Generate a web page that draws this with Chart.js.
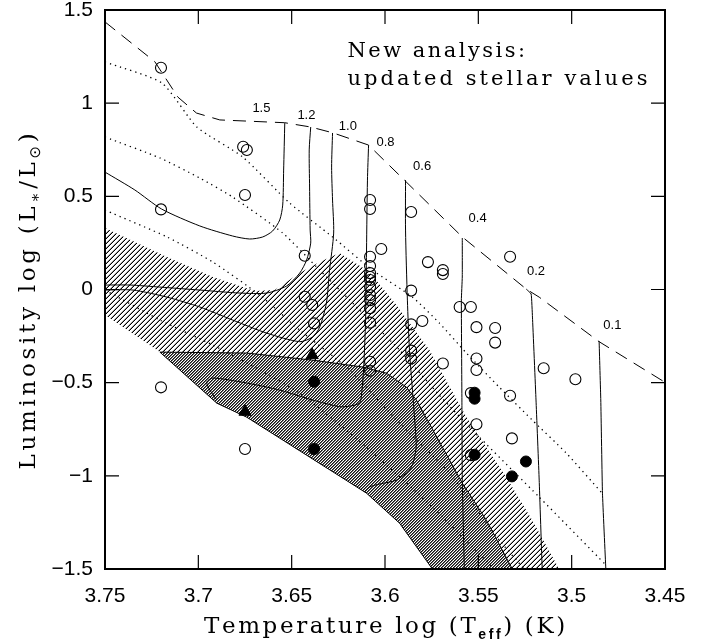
<!DOCTYPE html>
<html><head><meta charset="utf-8">
<script src="https://cdn.jsdelivr.net/npm/chart.js@4.4.1/dist/chart.umd.min.js"></script>
<style>html,body{margin:0;padding:0;background:#fff;}canvas{display:block;}</style>
</head><body>
<canvas id="c" width="712" height="644"></canvas>
<script>
// ---------- axis ticks ----------
const xTicks = [3.75, 3.7, 3.65, 3.6, 3.55, 3.5, 3.45];
const xTickLabels = ['3.75', '3.7', '3.65', '3.6', '3.55', '3.5', '3.45'];
const yTicks = [1.5, 1, 0.5, 0, -0.5, -1, -1.5];
const yTickLabels = ['1.5', '1', '0.5', '0', '\u22120.5', '\u22121', '\u22121.5'];

// ---------- stars: log Teff, log L ----------
const openT = [3.720,3.676,3.674,3.675,3.720,3.643,3.643,3.639,3.638,3.720,3.675,
  3.608,3.608,3.602,3.608,3.608,3.608,3.608,3.608,3.608,3.608,3.608,3.608,3.608,3.608,3.608,
  3.586,3.577,3.569,3.569,3.586,3.560,3.554,3.580,3.586,3.551,3.541,3.541,3.586,3.586,3.569,
  3.551,3.551,3.515,3.498,3.533,3.554,3.533,3.551,3.532,3.554];
const openL = [1.190,0.766,0.749,0.507,0.430,0.181,-0.039,-0.083,-0.182,-0.525,-0.856,
  0.480,0.432,0.217,0.176,0.126,0.088,0.067,0.051,0.013,-0.030,-0.057,-0.100,-0.178,-0.388,-0.436,
  0.416,0.147,0.104,0.083,-0.006,-0.094,-0.094,-0.169,-0.187,-0.202,-0.207,-0.285,-0.328,-0.370,-0.397,
  -0.370,-0.432,-0.423,-0.482,0.176,-0.556,-0.570,-0.723,-0.799,-0.889];
const filledT = [3.638, 3.638, 3.552, 3.552, 3.552, 3.5245, 3.532];
const filledL = [-0.495, -0.856, -0.554, -0.586, -0.887, -0.923, -1.003];
const triT = [3.639, 3.675];
const triL = [-0.352, -0.656];

// ---------- birthline (dashed) ----------
const birthline = [[3.75,1.436],[3.7233,1.2225],[3.711,1.033],[3.701,0.947],[3.6885,0.910],[3.6537,0.895],
  [3.6398,0.872],[3.628,0.841],[3.6088,0.775],[3.5887,0.578],[3.5586,0.282],[3.5243,0.002],[3.5174,-0.041],
  [3.4853,-0.280],[3.4505,-0.495]];

// ---------- evolutionary tracks (solid) ----------
const trackMasses = ['1.5', '1.2', '1.0', '0.8', '0.6', '0.4', '0.2', '0.1'];
const track15 = [[3.6537,0.893],[3.6543,0.641],[3.6548,0.453],[3.6564,0.373],[3.6602,0.314],[3.6655,0.282],
  [3.6725,0.271],[3.6816,0.287],[3.6992,0.341],[3.7197,0.432],[3.7340,0.534],[3.75,0.630]];
const track12 = [[3.6398,0.872],[3.6406,0.749],[3.6404,0.550],[3.6401,0.319],[3.6398,0.249],[3.6420,0.158],
  [3.6457,0.088],[3.6527,0.019],[3.6634,-0.019],[3.6778,-0.019],[3.6992,-0.003],[3.7206,0.013],[3.7366,0.024],[3.75,0.024]];
const track10 = [[3.6281,0.840],[3.6286,0.657],[3.6281,0.480],[3.6275,0.303],[3.6297,0.104],[3.6314,-0.073],
  [3.6350,-0.202],[3.6388,-0.255],[3.6457,-0.280],[3.6634,-0.234],[3.6816,-0.164],[3.6992,-0.094],
  [3.7168,-0.041],[3.7350,-0.003],[3.75,-0.003]];
const track08 = [[3.6088,0.775],[3.6094,0.587],[3.6099,0.212],[3.6104,-0.164],[3.6115,-0.432],[3.6126,-0.567],
  [3.6136,-0.610],[3.6190,-0.626],[3.6243,-0.629],[3.6388,-0.593],[3.6564,-0.540],[3.6741,-0.502],
  [3.6922,-0.475],[3.6955,-0.497],[3.6938,-0.540],[3.6901,-0.593]];
const track06 = [[3.5890,0.587],[3.5890,0.319],[3.5880,-0.057],[3.5869,-0.325],[3.5853,-0.540],[3.5837,-0.754],
  [3.5833,-0.846],[3.5848,-0.926],[3.5869,-0.969],[3.5939,-1.023],[3.6029,-1.044],[3.6083,-1.060],[3.6110,-1.087]];
const track04 = [[3.5586,0.276],[3.5586,0.067],[3.5591,-0.057],[3.5588,-0.593],[3.5586,-1.023],[3.5575,-1.5]];
const track02 = [[3.5243,0.002],[3.5217,-0.024],[3.5210,-0.148],[3.5191,-0.593],[3.5174,-1.023],[3.5158,-1.5]];
const track01 = [[3.4853,-0.277],[3.4844,-0.593],[3.4835,-1.093],[3.4817,-1.5]];
const massLabelT = [3.6662, 3.6421, 3.6199, 3.5997, 3.5801, 3.5504, 3.5191, 3.4782];
const massLabelL = [0.972, 0.936, 0.877, 0.788, 0.659, 0.382, 0.095, -0.191];

// ---------- isochrones (dotted) ----------
const iso1 = [[3.75,1.221],[3.7195,1.108],[3.7008,0.872],[3.6762,0.711],[3.6511,0.464],[3.6281,0.282],
  [3.6067,0.104],[3.5853,-0.041],[3.5709,-0.180],[3.5564,-0.341],[3.5388,-0.524],[3.5211,-0.701],
  [3.5029,-0.878],[3.4837,-1.093]];
const iso2 = [[3.75,0.818],[3.7206,0.706],[3.6992,0.598],[3.6816,0.496],[3.6548,0.303],[3.6350,0.104],
  [3.6136,-0.110],[3.5922,-0.325],[3.5709,-0.567],[3.5495,-0.792],[3.5174,-1.114],[3.4816,-1.479]];
const iso3 = [[3.75,0.426],[3.7168,0.282],[3.6922,0.147],[3.6671,-0.030],[3.6457,-0.218],[3.6190,-0.432],
  [3.5922,-0.717],[3.5655,-0.985],[3.5388,-1.345],[3.5254,-1.5]];
const iso4 = [[3.75,-0.003],[3.7206,-0.164],[3.6922,-0.298],[3.6671,-0.432],[3.6457,-0.556],[3.6099,-0.846],
  [3.5746,-1.168],[3.5532,-1.383],[3.5414,-1.5]];

// ---------- shaded regions ----------
const lightBand = [[3.75,0.330],[3.7168,0.174],[3.6922,0.067],[3.6698,-0.008],[3.6591,-0.003],[3.6457,0.088],
  [3.6350,0.147],[3.6243,0.196],[3.6083,0.094],[3.5939,-0.083],[3.5762,-0.325],[3.5570,-0.674],[3.5457,-0.846],
  [3.5350,-1.007],[3.5211,-1.238],[3.5067,-1.5],[3.5746,-1.5],[3.5922,-1.254],[3.6099,-1.093],[3.6741,-0.685],
  [3.6901,-0.610],[3.7206,-0.336],[3.75,-0.137],[3.75,0.330]];
const darkZone = [[3.7206,-0.336],[3.6741,-0.341],[3.6388,-0.379],[3.6120,-0.416],[3.5992,-0.449],[3.5885,-0.524],
  [3.5832,-0.593],[3.5586,-1.039],[3.5457,-1.238],[3.5318,-1.5],[3.5746,-1.5],[3.5922,-1.254],[3.6099,-1.093],
  [3.6741,-0.685],[3.6901,-0.610],[3.7206,-0.336]];

const noteLines = ['New analysis:', 'updated stellar values'];
const noteT = 3.6201;
const noteL = [1.249, 1.097];

// ---------- helpers ----------
const pts = a => a.map(([x, y]) => ({x, y}));
const zip = (xs, ys) => xs.map((x, i) => ({x, y: ys[i]}));

function makePattern(size, shade) {
  const c = document.createElement('canvas');
  c.width = size; c.height = size;
  const g = c.getContext('2d');
  for (let x = 0; x < size; x++) for (let y = 0; y < size; y++) {
    g.fillStyle = shade((x + y) % size); g.fillRect(x, y, 1, 1);
  }
  return document.getElementById('c').getContext('2d').createPattern(c, 'repeat');
}
const lightHatch = makePattern(5, k => k === 4 ? '#000' : (k === 3 ? '#9a9a9a' : '#fff'));
const darkHatch = makePattern(3, k => k === 0 ? '#111' : (k === 1 ? '#6a6a6a' : '#fff'));

const lineDS = (data, opts) => Object.assign({
  data: pts(data), showLine: true, pointRadius: 0, borderColor: '#000', borderWidth: 1,
  fill: false, tension: 0, order: 10
}, opts);

const datasets = [
  lineDS(lightBand, {fill: 'shape', backgroundColor: lightHatch, borderWidth: 0, order: 30}),
  lineDS(darkZone, {fill: 'shape', backgroundColor: darkHatch, borderWidth: 1, order: 29}),
  lineDS(iso1, {borderDash: [1.3, 4], borderWidth: 1.3, order: 20, tension: 0.2}),
  lineDS(iso2, {borderDash: [1.3, 4], borderWidth: 1.3, order: 20, tension: 0.2}),
  lineDS(iso3, {borderDash: [1.3, 4], borderWidth: 1.3, order: 20, tension: 0.2}),
  lineDS(iso4, {borderDash: [1.3, 4], borderWidth: 1.3, order: 20, tension: 0.2}),
  lineDS(track15, {tension: 0.25, order: 15}),
  lineDS(track12, {tension: 0.25, order: 15}),
  lineDS(track10, {tension: 0.25, order: 15}),
  lineDS(track08, {tension: 0.25, order: 15}),
  lineDS(track06, {tension: 0.25, order: 15}),
  lineDS(track04, {tension: 0.1, order: 15}),
  lineDS(track02, {tension: 0.1, order: 15}),
  lineDS(track01, {tension: 0.1, order: 15}),
  lineDS(birthline, {borderDash: [13, 8], order: 14}),
  {data: zip(openT, openL), pointStyle: 'circle', pointRadius: 5.5, borderColor: '#000', borderWidth: 1.1,
   backgroundColor: 'rgba(0,0,0,0)', order: 3},
  {data: zip(filledT, filledL), pointStyle: 'circle', pointRadius: 5.5, borderColor: '#000', borderWidth: 1,
   backgroundColor: '#000', order: 2},
  {data: zip(triT, triL), pointStyle: 'triangle', pointRadius: 7, borderColor: '#000', borderWidth: 1,
   backgroundColor: '#000', order: 1}
];

function labelFor(list, labels, v) {
  const i = list.findIndex(t => Math.abs(t - v) < 1e-6);
  return i >= 0 ? labels[i] : '';
}

const TICK_FONT = {family: 'Liberation Sans', size: 21, weight: 'normal'};
const SERIF = '"DejaVu Serif"';

// draw a run of [text, font, dy] parts with extra letter spacing so that the run fills `target` px
function runWidth(ctx, parts) {
  let w = 0, n = 0;
  parts.forEach(p => { ctx.font = p[1]; w += ctx.measureText(p[0]).width; n += [...p[0]].length; });
  return {w, n};
}
function drawRun(ctx, parts, x0, y0, target, align) {
  const {w, n} = runWidth(ctx, parts);
  const sp = Math.max(0, (target - w) / n);
  let x = align === 'center' ? x0 - target / 2 : x0;
  ctx.textAlign = 'left'; ctx.textBaseline = 'alphabetic';
  parts.forEach(p => {
    ctx.font = p[1];
    for (const ch of p[0]) { ctx.fillText(ch, x, y0 + p[2]); x += ctx.measureText(ch).width + sp; }
  });
}

// frame with inward ticks on four sides
const framePlugin = {
  id: 'frame',
  afterDatasetsDraw(chart) {
    const {ctx, chartArea: a, scales: {x, y}} = chart;
    ctx.save();
    ctx.strokeStyle = '#000';
    ctx.lineWidth = 1.2;
    const L = 14;
    ctx.beginPath();
    xTicks.forEach(v => {
      const p = x.getPixelForValue(v);
      ctx.moveTo(p, a.bottom); ctx.lineTo(p, a.bottom - L);
      ctx.moveTo(p, a.top); ctx.lineTo(p, a.top + L);
    });
    yTicks.forEach(v => {
      const p = y.getPixelForValue(v);
      ctx.moveTo(a.left, p); ctx.lineTo(a.left + L, p);
      ctx.moveTo(a.right, p); ctx.lineTo(a.right - L, p);
    });
    ctx.stroke();
    ctx.lineWidth = 2;
    ctx.strokeRect(a.left, a.top, a.right - a.left, a.bottom - a.top);

    // mass labels
    ctx.fillStyle = '#000';
    ctx.font = '13px "Liberation Sans"';
    ctx.textAlign = 'center'; ctx.textBaseline = 'middle';
    trackMasses.forEach((m, i) => ctx.fillText(m, x.getPixelForValue(massLabelT[i]), y.getPixelForValue(massLabelL[i])));

    // note
    const nf = '21px ' + SERIF;
    drawRun(ctx, [[noteLines[0], nf, 0]], x.getPixelForValue(noteT), y.getPixelForValue(noteL[0]), 180, 'left');
    drawRun(ctx, [[noteLines[1], nf, 0]], x.getPixelForValue(noteT), y.getPixelForValue(noteL[1]), 303, 'left');
    ctx.restore();
  },
  afterDraw(chart) {
    const {ctx, chartArea: a} = chart;
    ctx.save();
    ctx.fillStyle = '#000';
    // x title: Temperature log (T_eff) (K)
    const xs = 23;
    const xparts = [['Temperature log (T', xs + 'px ' + SERIF, 0],
                    ['eff', 'bold 14px "Liberation Sans"', 6],
                    [') (K)', xs + 'px ' + SERIF, 0]];
    drawRun(ctx, xparts, (a.left + a.right) / 2, 633, 362, 'center');

    // y title: Luminosity log (L_*/L_sun)
    const ys = 23;
    const yparts = [['Luminosity log (L', ys + 'px ' + SERIF, 0], ['\u2217', '15px ' + SERIF, 5],
                    ['/L', ys + 'px ' + SERIF, 0], ['\u2299', '15px "DejaVu Sans"', 5], [')', ys + 'px ' + SERIF, 0]];
    ctx.translate(35, (a.top + a.bottom) / 2 + 10);
    ctx.rotate(-Math.PI / 2);
    drawRun(ctx, yparts, 0, 0, 340, 'center');
    ctx.restore();
  }
};

new Chart(document.getElementById('c'), {
  type: 'scatter',
  data: {datasets},
  options: {
    responsive: false, animation: false, devicePixelRatio: 1,
    layout: {padding: {top: 10, right: 47, left: 0, bottom: 0}},
    plugins: {legend: {display: false}, tooltip: {enabled: false}},
    scales: {
      x: {
        type: 'linear', reverse: true, min: 3.45, max: 3.75,
        afterBuildTicks: s => { s.ticks = xTicks.map(v => ({value: v})); },
        afterFit: s => { s.height = 75; s.paddingLeft = 0; s.paddingRight = 0; s.paddingTop = 0; s.paddingBottom = 0; },
        grid: {display: false, drawTicks: false}, border: {display: false},
        ticks: {font: TICK_FONT, color: '#000', padding: 15, maxRotation: 0, autoSkip: false,
                callback: v => labelFor(xTicks, xTickLabels, v)}
      },
      y: {
        type: 'linear', min: -1.5, max: 1.5,
        afterBuildTicks: s => { s.ticks = yTicks.map(v => ({value: v})); },
        afterFit: s => { s.width = 105; s.paddingLeft = 0; s.paddingRight = 0; s.paddingTop = 0; s.paddingBottom = 0; },
        grid: {display: false, drawTicks: false}, border: {display: false},
        ticks: {font: TICK_FONT, color: '#000', padding: 12, autoSkip: false,
                callback: v => labelFor(yTicks, yTickLabels, v)}
      }
    }
  },
  plugins: [framePlugin]
});
</script>
</body></html>
